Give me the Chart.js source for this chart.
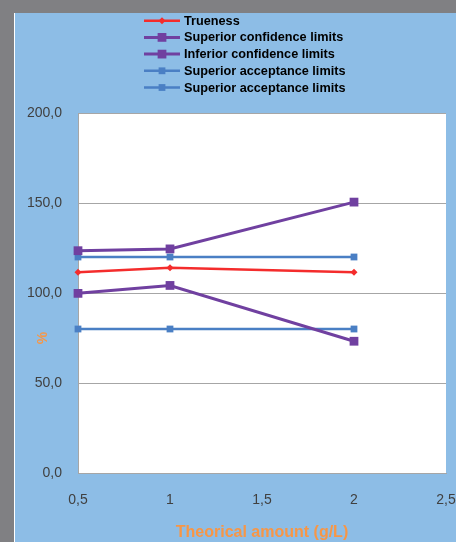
<!DOCTYPE html>
<html>
<head>
<meta charset="utf-8">
<script src="https://cdn.jsdelivr.net/npm/chart.js@4/dist/chart.umd.min.js"></script>
<style>
  html, body { margin: 0; padding: 0; width: 456px; height: 542px; overflow: hidden; background: #808083; }
  #frame { position: absolute; left: 14px; top: 13px; width: 442px; height: 529px; border-left: 1px solid #ffffff; background: #8dbde6; }
  #frame canvas { display: block; }
</style>
</head>
<body>
<div id="frame"><canvas id="chart" width="441" height="529"></canvas></div>
<script>
// data
const amounts = [0.5, 1, 2];
const trueness = [111.5, 114, 111.5];
const supConfidence = [123.5, 124.5, 150.5];
const infConfidence = [99.8, 104.2, 73.2];
const supAcceptance = [120, 120, 120];
const infAcceptance = [80, 80, 80];
const seriesNames = ['Trueness', 'Superior confidence limits', 'Inferior confidence limits',
    'Superior acceptance limits', 'Superior acceptance limits'];
const yTicks = [0, 50, 100, 150, 200];
const xTicks = [0.5, 1, 1.5, 2, 2.5];

const RED = '#f42c2c';
const PURPLE = '#7040a0';
const BLUE = '#4a7fc4';
const ORANGE = '#f79646';

const toPoints = (vals) => amounts.map((x, i) => ({ x: x, y: vals[i] }));
const comma = (v, digits) => v.toFixed(digits).replace('.', ',');

function series(name, vals, color, style, radius, width) {
    return {
        label: name,
        data: toPoints(vals),
        borderColor: color,
        backgroundColor: color,
        borderWidth: width,
        pointStyle: style,
        pointRadius: radius,
        pointHoverRadius: radius,
        pointBorderWidth: 0,
        tension: 0,
        clip: false
    };
}

// white plot area + manual vertical legend + "%" label
const decor = {
    id: 'decor',
    beforeDraw(chart) {
        const { ctx, chartArea: a } = chart;
        ctx.save();
        ctx.fillStyle = '#ffffff';
        ctx.fillRect(a.left, a.top, a.right - a.left, a.bottom - a.top);
        ctx.restore();
    },
    afterDraw(chart) {
        const ctx = chart.ctx;
        ctx.save();
        ctx.font = 'bold 12.7px "Liberation Sans", Arial, sans-serif';
        ctx.textBaseline = 'middle';
        chart.data.datasets.forEach((ds, i) => {
            const y = 7.7 + i * 16.7;
            ctx.strokeStyle = ds.borderColor;
            ctx.lineWidth = ds.borderWidth;
            ctx.beginPath();
            ctx.moveTo(129, y);
            ctx.lineTo(165, y);
            ctx.stroke();
            ctx.fillStyle = ds.borderColor;
            const r = ds.pointRadius;
            ctx.beginPath();
            if (ds.pointStyle === 'rectRot') {
                ctx.moveTo(147 - r, y); ctx.lineTo(147, y - r);
                ctx.lineTo(147 + r, y); ctx.lineTo(147, y + r);
            } else {
                const s = r * Math.SQRT1_2;
                ctx.rect(147 - s, y - s, 2 * s, 2 * s);
            }
            ctx.fill();
            ctx.fillStyle = '#000000';
            ctx.fillText(ds.label, 169, y + 0.5);
        });

        // y title
        const yPos = chart.scales.y.getPixelForValue(75);
        ctx.translate(28, yPos);
        ctx.rotate(-Math.PI / 2);
        ctx.font = 'bold 14px "Liberation Sans", Arial, sans-serif';
        ctx.fillStyle = ORANGE;
        ctx.textAlign = 'center';
        ctx.fillText('%', 0, 0);
        ctx.restore();
    }
};

new Chart('chart', {
    type: 'line',
    data: {
        datasets: [
            series(seriesNames[0], trueness, RED, 'rectRot', 3.5, 2.5),
            series(seriesNames[1], supConfidence, PURPLE, 'rect', 6.2, 3),
            series(seriesNames[2], infConfidence, PURPLE, 'rect', 6.2, 3),
            series(seriesNames[3], supAcceptance, BLUE, 'rect', 4.8, 2.5),
            series(seriesNames[4], infAcceptance, BLUE, 'rect', 4.8, 2.5)
        ]
    },
    options: {
        responsive: false,
        animation: false,
        layout: { padding: { top: 100, right: 0, left: 0, bottom: 0 } },
        plugins: {
            legend: { display: false },
            tooltip: { enabled: false }
        },
        scales: {
            x: {
                type: 'linear',
                min: 0.5,
                max: 2.5,
                afterBuildTicks: (s) => { s.ticks = xTicks.map(v => ({ value: v })); },
                afterFit: (s) => { s.height = 69; s.paddingLeft = 0; s.paddingRight = 10; },
                grid: { display: false, drawTicks: false },
                border: { display: true, color: '#a6a6a6', width: 1 },
                ticks: {
                    padding: 19,
                    color: '#404040',
                    font: { family: '"Liberation Sans", Arial, sans-serif', size: 14 },
                    callback: (v) => comma(v, Number.isInteger(v) ? 0 : 1)
                },
                title: {
                    display: true,
                    text: 'Theorical amount (g/L)',
                    color: ORANGE,
                    padding: { top: 0, bottom: 0 },
                    font: { family: '"Liberation Sans", Arial, sans-serif', size: 16, weight: 'bold' }
                }
            },
            y: {
                min: 0,
                max: 200,
                afterBuildTicks: (s) => { s.ticks = yTicks.map(v => ({ value: v })); },
                afterFit: (s) => { s.width = 63; },
                grid: { color: '#a6a6a6', lineWidth: 1, drawTicks: false },
                border: { display: true, color: '#a6a6a6', width: 1 },
                ticks: {
                    padding: 16,
                    color: '#404040',
                    font: { family: '"Liberation Sans", Arial, sans-serif', size: 14 },
                    callback: (v) => comma(v, 1)
                }
            }
        }
    },
    plugins: [decor]
});
</script>
</body>
</html>
